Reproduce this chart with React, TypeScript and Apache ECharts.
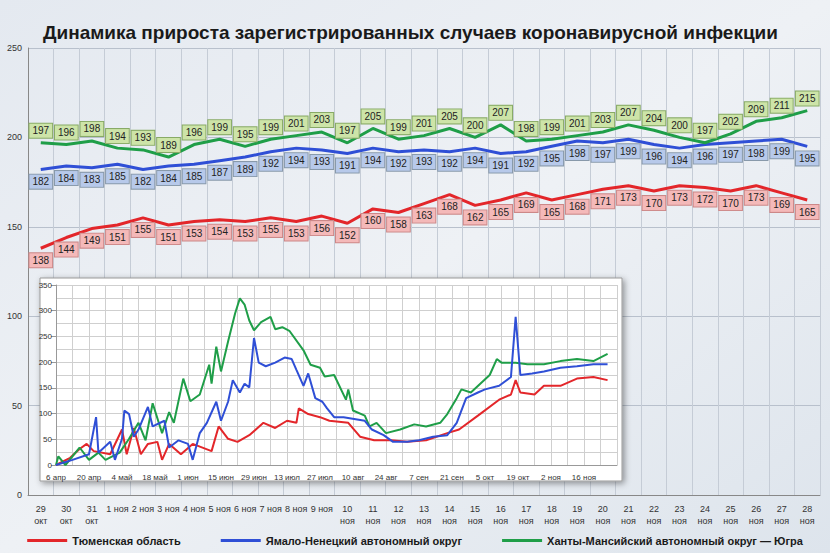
import React, { useEffect, useRef } from "react";
import * as echarts from "echarts";

const categories = [
  "29\nокт","30\nокт","31\nокт","1 ноя","2 ноя","3 ноя","4 ноя","5 ноя","6 ноя","7 ноя","8 ноя","9 ноя",
  "10\nноя","11\nноя","12\nноя","13\nноя","14\nноя","15\nноя","16\nноя","17\nноя","18\nноя","19\nноя","20\nноя",
  "21\nноя","22\nноя","23\nноя","24\nноя","25\nноя","26\nноя","27\nноя","28\nноя",
];
const tyumen = [138,144,149,151,155,151,153,154,153,155,153,156,152,160,158,163,168,162,165,169,165,168,171,173,170,173,172,170,173,169,165];
const yamal = [182,184,183,185,182,184,185,187,189,192,194,193,191,194,192,193,192,194,191,192,195,198,197,199,196,194,196,197,198,199,195];
const khmao = [197,196,198,194,193,189,196,199,195,199,201,203,197,205,199,201,205,200,207,198,199,201,203,207,204,200,197,202,209,211,215];

// inset: [days since 6 Apr, value]
const insetKhmao = [[0,0],[1,17],[4,0],[10,34],[14,10],[18,24],[21,10],[27,24],[31,51],[35,82],[38,48],[41,120],[45,62],[48,103],[50,82],[54,168],[57,124],[61,137],[65,195],[66,158],[68,230],[70,182],[73,240],[76,295],[78,324],[80,312],[82,281],[84,262],[87,278],[91,288],[93,264],[96,268],[99,261],[105,223],[108,195],[112,189],[114,172],[118,175],[123,127],[124,147],[126,106],[131,96],[133,75],[136,82],[140,62],[146,69],[152,79],[157,75],[163,82],[166,99],[170,130],[172,147],[176,141],[180,158],[184,175],[187,206],[189,199],[195,199],[200,196],[207,196],[214,202],[221,206],[228,202],[234,216]];
const insetYamal = [[0,0],[7,10],[14,21],[17,93],[18,24],[23,45],[25,10],[28,51],[29,106],[31,99],[33,55],[35,69],[39,113],[41,75],[46,86],[48,34],[52,48],[56,41],[58,10],[61,62],[64,82],[68,123],[70,86],[73,123],[75,165],[78,141],[80,158],[82,151],[84,247],[86,199],[89,192],[93,199],[97,209],[100,206],[102,185],[105,154],[107,178],[110,130],[113,123],[115,110],[118,93],[122,93],[131,86],[134,69],[139,58],[143,45],[149,45],[154,48],[160,55],[166,58],[170,82],[174,130],[179,141],[182,147],[188,154],[193,171],[195,288],[197,175],[202,178],[207,182],[214,189],[221,192],[228,196],[234,196]];
const insetTyumen = [[0,0],[6,14],[10,31],[13,41],[16,27],[23,21],[28,69],[30,21],[33,72],[36,21],[39,41],[43,45],[45,10],[48,41],[53,21],[58,41],[66,27],[69,75],[73,51],[77,45],[82,58],[88,82],[93,72],[98,86],[102,82],[103,110],[107,99],[112,93],[116,86],[124,82],[129,55],[135,48],[142,48],[149,45],[157,48],[166,62],[171,69],[179,96],[188,127],[193,137],[195,165],[197,141],[203,137],[207,154],[214,154],[221,168],[228,171],[234,165]];

// inset grid ticks
const insetXTicks = [7, 14, 21, 28, 35, 42, 49, 56, 63, 70, 77, 84, 91, 98, 105, 112, 119, 126, 133, 140, 147, 154, 161, 168, 175, 182, 189, 196, 203, 210, 217, 224, 231, 238];
const insetYTicks = [25, 50, 75, 100, 125, 150, 175, 200, 225, 250, 275, 300, 325, 350];

const months = ["янв","фев","мар","апр","май","июн","июл","авг","сен","окт","ноя","дек"];
const dayLabel = (d: number) => {
  const dt = new Date(2020, 3, 6 + d);
  return dt.getDate() + " " + months[dt.getMonth()];
};

const RED = "#e3262a", BLUE = "#2f4fd6", GREEN = "#1f9e48";

export default function App() {
  const ref = useRef<HTMLDivElement>(null);
  useEffect(() => {
    const chart = echarts.init(ref.current!, null, { renderer: "svg" });
    const lbl = (bg: string, border: string, pos: string) => ({
      show: true, position: pos, distance: 5, backgroundColor: bg, borderColor: border, borderWidth: 1,
      padding: [2, 3], color: "#222", fontSize: 10, fontFamily: "Arial",
    });
    const mainLine = (name: string, data: number[], color: string, label: any) => ({
      name, type: "line", data, color, symbol: "circle", symbolSize: 0.1, showSymbol: true,
      lineStyle: { width: 3 }, label, labelLayout: { hideOverlap: false },
    });
    chart.setOption({
      animation: false,
      backgroundColor: {
        type: "linear", x: 0, y: 0, x2: 1, y2: 1,
        colorStops: [{ offset: 0, color: "#e4e9f0" }, { offset: 0.5, color: "#eef1f5" }, { offset: 1, color: "#dde4ec" }],
      },
      title: {
        text: "Динамика прироста зарегистрированных случаев коронавирусной инфекции",
        left: 38, top: 18, textStyle: { fontSize: 19, fontWeight: "bold", color: "#1a1a1a", fontFamily: "Arial" },
      },
      legend: {
        bottom: 2, left: "center", itemWidth: 40, itemGap: 40, icon: "rect", itemHeight: 3,
        textStyle: { fontSize: 11, fontWeight: "bold", color: "#1a1a1a", fontFamily: "Arial" },
        data: ["Тюменская область", "Ямало-Ненецкий автономный округ", "Ханты-Мансийский автономный округ — Югра"],
      },
      graphic: [{
        type: "rect", z: 1, shape: { x: 40, y: 278, width: 582, height: 203 },
        style: { fill: "#ffffff", stroke: "#999", lineWidth: 1, shadowBlur: 6, shadowColor: "rgba(0,0,0,0.4)", shadowOffsetX: 2, shadowOffsetY: 2 },
      }],
      grid: [
        { left: 28, right: 10, top: 48, bottom: 58 },
        { left: 56, right: 213, top: 285, bottom: 88 },
      ],
      xAxis: [
        {
          type: "category", data: categories, gridIndex: 0, boundaryGap: true,
          axisLine: { lineStyle: { color: "#888" } }, axisTick: { show: false },
          splitLine: { show: true, lineStyle: { color: "#c5ccd6" } },
          axisLabel: { interval: 0, fontSize: 9, color: "#333", fontFamily: "Arial", lineHeight: 12 },
        },
        {
          type: "value", gridIndex: 1, min: 0, max: 238, interval: 14, z: 10,
          axisLine: { lineStyle: { color: "#999" } }, axisTick: { show: false },
          splitLine: { show: false },
          axisLabel: { fontSize: 8, color: "#333", fontFamily: "Arial", formatter: (v: number) => (v > 230 ? "" : dayLabel(v)) },
        },
      ],
      yAxis: [
        {
          type: "value", gridIndex: 0, min: 0, max: 250, interval: 50,
          axisLine: { show: true, lineStyle: { color: "#888" } },
          splitLine: { lineStyle: { color: "#b8c0cc" } },
          axisLabel: { fontSize: 9, color: "#333", fontFamily: "Arial", margin: 6 },
        },
        {
          type: "value", gridIndex: 1, min: 0, max: 350, interval: 50, z: 10,
          axisLine: { show: true, lineStyle: { color: "#999" } },
          splitLine: { show: false },
          axisLabel: { fontSize: 8, color: "#333", fontFamily: "Arial", margin: 4 },
        },
      ],
      series: [
        mainLine("Тюменская область", tyumen, RED, lbl("#f4b9b9", "#c88", "bottom")),
        mainLine("Ямало-Ненецкий автономный округ", yamal, BLUE, lbl("#b7c9ea", "#89a", "bottom")),
        mainLine("Ханты-Мансийский автономный округ — Югра", khmao, GREEN, lbl("#cde4a8", "#8a6", "top")),
        {
          name: "grid", type: "line", xAxisIndex: 1, yAxisIndex: 1, data: [], z: 11, silent: true,
          markLine: {
            silent: true, symbol: "none", animation: false, label: { show: false },
            lineStyle: { color: "#cfcfcf", type: "solid", width: 1 },
            data: [...insetXTicks.map((v) => ({ xAxis: v })), ...insetYTicks.map((v) => ({ yAxis: v }))],
          },
        },
        { name: "Тюменская область", type: "line", xAxisIndex: 1, yAxisIndex: 1, data: insetTyumen, color: RED, symbol: "none", lineStyle: { width: 2 }, z: 12 },
        { name: "Ханты-Мансийский автономный округ — Югра", type: "line", xAxisIndex: 1, yAxisIndex: 1, data: insetKhmao, color: GREEN, symbol: "none", lineStyle: { width: 2 }, z: 12 },
        { name: "Ямало-Ненецкий автономный округ", type: "line", xAxisIndex: 1, yAxisIndex: 1, data: insetYamal, color: BLUE, symbol: "none", lineStyle: { width: 2 }, z: 12 },
      ],
    });
    return () => chart.dispose();
  }, []);
  return <div ref={ref} style={{ position: "fixed", left: 0, top: 0, width: 830, height: 553 }} />;
}
